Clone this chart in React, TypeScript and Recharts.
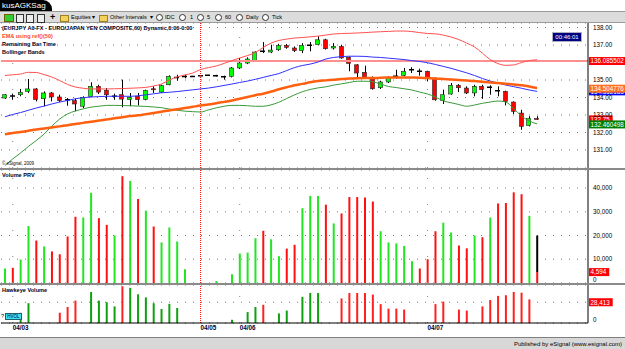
import React from 'react';
import { ComposedChart, Bar, Line, XAxis, YAxis, CartesianGrid, ReferenceLine, Cell } from 'recharts';

const FONT = '"Liberation Sans", Arial, sans-serif';
const SLOTS = 75; // 69 hourly bars + empty space on the right

// hourly EUR/JPY candles
const opens = [133.97,134.10,134.16,134.35,134.49,133.93,134.26,134.03,133.88,133.82,133.50,134.07,134.64,134.41,134.06,134.16,133.88,134.07,133.89,134.50,134.31,134.73,135.14,135.19,135.20,135.25,135.27,135.24,135.20,135.21,135.69,135.97,136.10,136.66,136.60,136.73,136.98,136.83,136.68,136.98,137.02,137.30,136.83,136.92,136.30,135.87,135.44,135.15,134.56,134.89,135.20,135.27,135.58,135.51,135.50,135.11,133.84,134.20,134.70,134.54,134.26,134.64,134.57,134.40,134.35,133.74,133.11,132.41,132.80];
const highs = [134.20,134.22,134.49,135.06,134.54,134.35,134.31,134.16,133.97,133.95,134.07,134.87,134.73,134.54,134.22,135.02,134.26,134.26,134.45,134.64,134.73,135.27,135.30,135.30,135.24,135.28,135.29,135.30,135.25,135.74,136.26,136.30,136.64,137.17,137.02,137.07,137.06,136.92,137.11,137.17,137.50,137.36,137.11,137.02,136.35,135.91,135.82,135.21,134.96,135.21,135.59,135.69,135.73,135.65,135.53,135.15,134.45,134.83,134.77,134.64,134.73,134.73,134.70,134.64,134.39,133.78,133.30,132.93,132.93];
const lows = [133.92,133.87,134.07,134.26,133.78,133.50,133.78,133.74,133.53,133.21,133.40,134.03,134.20,133.87,133.87,133.44,133.50,133.55,133.84,134.26,134.26,134.70,134.96,135.10,135.18,135.23,135.25,135.20,135.02,135.15,135.63,135.91,136.07,136.54,136.54,136.67,136.79,136.60,136.54,136.64,136.98,136.74,136.74,136.22,135.50,135.15,135.11,134.45,134.49,134.83,135.07,135.21,135.40,135.25,134.92,133.82,133.63,134.16,134.31,134.20,134.07,133.93,134.16,134.07,133.55,133.06,132.16,132.35,132.73];
const closes = [134.16,134.08,134.30,134.49,133.88,134.26,134.03,133.82,133.86,133.63,134.01,134.64,134.31,134.16,134.08,133.91,134.01,133.88,134.41,134.45,134.68,135.21,135.16,135.21,135.20,135.25,135.27,135.26,135.17,135.69,135.97,136.20,136.60,136.63,136.71,136.98,136.87,136.68,136.98,137.00,137.30,136.79,136.92,136.26,135.95,135.40,135.15,134.50,134.89,135.15,135.22,135.50,135.60,135.49,135.11,133.87,134.16,134.70,134.56,134.26,134.64,134.45,134.59,134.38,133.78,133.21,132.35,132.79,132.75];

// indicators
const bbUpper = [135.26,135.30,135.34,135.44,135.43,135.31,135.17,134.97,134.75,134.60,134.53,134.49,134.49,134.49,134.50,134.51,134.53,134.55,134.58,134.66,134.77,135.00,135.17,135.29,135.40,135.60,135.71,135.80,135.95,136.11,136.26,136.40,136.57,136.86,137.11,137.26,137.34,137.40,137.43,137.47,137.51,137.57,137.63,137.66,137.67,137.69,137.71,137.74,137.76,137.78,137.80,137.80,137.77,137.71,137.66,137.64,137.57,137.46,137.31,137.11,136.89,136.54,136.17,135.94,135.84,135.86,136.00,136.11,136.16];
const bbMiddle = [132.90,133.03,133.14,133.27,133.40,133.51,133.63,133.74,133.83,133.93,133.99,134.03,134.05,134.07,134.07,134.07,134.07,134.10,134.15,134.21,134.27,134.30,134.34,134.39,134.44,134.49,134.54,134.61,134.69,134.77,134.86,134.94,135.04,135.15,135.26,135.37,135.54,135.71,135.83,135.91,136.03,136.20,136.29,136.34,136.36,136.36,136.35,136.31,136.29,136.25,136.21,136.17,136.11,136.06,135.99,135.89,135.78,135.67,135.54,135.41,135.26,135.09,134.94,134.83,134.71,134.62,134.53,134.43,134.35];
const bbLower = [130.11,130.49,130.83,131.20,131.54,131.91,132.37,132.77,133.06,133.23,133.35,133.45,133.50,133.55,133.55,133.54,133.53,133.51,133.49,133.46,133.42,133.34,133.27,133.22,133.19,133.17,133.29,133.41,133.50,133.55,133.55,133.53,133.50,133.50,133.58,133.73,133.94,134.15,134.33,134.46,134.55,134.61,134.71,134.78,134.86,134.93,134.93,134.90,134.77,134.63,134.57,134.50,134.43,134.31,134.20,134.03,133.81,133.70,133.60,133.50,133.57,133.67,133.74,133.80,133.74,133.37,132.94,132.66,132.49];
const ema50 = [131.90,131.97,132.03,132.10,132.17,132.23,132.29,132.35,132.42,132.49,132.55,132.62,132.68,132.74,132.81,132.87,132.94,132.98,133.05,133.11,133.19,133.26,133.33,133.40,133.47,133.54,133.60,133.67,133.75,133.83,133.93,134.03,134.13,134.22,134.34,134.47,134.59,134.70,134.78,134.87,134.94,134.98,135.02,135.06,135.08,135.10,135.11,135.11,135.13,135.14,135.15,135.15,135.14,135.13,135.11,135.09,135.06,135.03,135.00,134.97,134.94,134.90,134.86,134.83,134.79,134.75,134.70,134.63,134.54];

const volumes = [6100,6400,9900,24000,17900,15400,13300,12100,19600,27900,27600,38000,27300,24500,20000,45000,43000,35400,30500,23800,17100,23400,17500,5800,0,0,0,800,0,3700,12400,12800,18900,22000,18400,11300,14500,16100,31500,36700,36700,33000,25100,29300,36200,36200,36000,34300,21800,17100,16700,15600,9200,6100,10000,21800,25400,21300,15800,14600,20000,19300,27600,33500,33700,38200,37400,28300,4594];
const projectedVolume = 20000;

const hawkeye = [0,0,14000,27100,0,0,0,14000,21900,30600,0,42400,30600,28400,22700,50300,48100,39300,35000,27100,19200,26200,20500,0,0,0,0,0,0,4400,0,14900,21900,24900,0,13100,17000,0,35800,41100,41100,0,0,33600,41100,41100,41100,38900,25800,19700,19700,18400,0,0,0,25800,29300,0,18400,17000,0,22700,31500,37100,38000,42400,41500,32300,0];
const hawkeyeSide = ['','','g','g','','','','r','r','r','','g','g','g','g','r','g','g','g','g','g','g','g','','','','','','','g','','g','g','r','','g','g','','g','g','g','','','r','r','r','r','r','r','r','r','r','','','','r','r','','r','r','','r','r','r','r','r','r','r',''];

const priceTicks = [131, 132, 133, 134, 135, 137, 138];
const volumeTicks = [0, 10000, 20000, 30000, 40000];
const daySlots = [1, 25, 30, 54];
const dayLabels = ['04/03', '04/05', '04/06', '04/07'];
const cursorSlot = 25;

const refLevel = 136.085502;
const emaLast = 134.504776;
const midLast = 134.352183;
const lowerLast = 132.460498;
const hawkeyeLevel = 28413;

const UP = '#00ff00';
const DOWN = '#ff0000';

const rows = Array.from({ length: SLOTS }, (_, i) => ({
  i,
  open: opens[i],
  high: highs[i],
  low: lows[i],
  close: closes[i],
  upper: bbUpper[i],
  middle: bbMiddle[i],
  lower: bbLower[i],
  ema: ema50[i],
  vol: volumes[i],
  volRest: i === volumes.length - 1 ? projectedVolume - volumes[i] : undefined,
  hawk: hawkeye[i] || undefined,
}));

function Candle(props: any) {
  const { x, y, width, height, payload } = props;
  if (!payload || payload.open == null) return null;
  const { open, high, low, close } = payload;
  const top = Math.min(y, y + height);
  const h = Math.abs(height);
  const span = high - low;
  const py = (v: number) => (span > 0 ? top + ((high - v) / span) * h : top);
  const cx = Math.round(x + width / 2) + 0.5;
  const left = Math.round(x);
  const w = Math.round(width);
  const bTop = py(Math.max(open, close));
  const bBot = py(Math.min(open, close));
  if (Math.abs(close - open) < 0.04) {
    const my = (bTop + bBot) / 2;
    return (
      <g>
        <line x1={cx} x2={cx} y1={top} y2={top + h} stroke="#000" />
        <line x1={left} x2={left + w} y1={my} y2={my} stroke="#000" strokeWidth={1.5} />
      </g>
    );
  }
  return (
    <g>
      <line x1={cx} x2={cx} y1={top} y2={top + h} stroke="#000" />
      <rect x={left + 0.5} y={bTop} width={w - 1} height={Math.max(bBot - bTop, 1)} fill={close > open ? UP : DOWN} stroke="#222" strokeWidth={0.6} />
    </g>
  );
}

function ValueTag(props: any) {
  const { viewBox, text, bg } = props;
  if (!viewBox) return null;
  const x = viewBox.x + viewBox.width + 1;
  const y = viewBox.y;
  const w = text.length * 3.45 + 3;
  return (
    <g>
      <rect x={x} y={y - 4} width={w} height={8} fill={bg} />
      <text x={x + 1.5} y={y + 2.3} fontSize={6.3} fill="#fff" fontFamily={FONT}>{text}</text>
    </g>
  );
}

// right-hand axis label; the zero label sits a little above the baseline
function RightTick(props: any) {
  const { x, y, payload, format } = props;
  const text = format(payload.value);
  if (!text) return null;
  const yy = payload.value === 0 ? y - 3 : y;
  return (
    <text x={x + 1} y={yy + 2.2} fontSize={6.3} fill="#000" fontFamily={FONT}>{text}</text>
  );
}

function DayTick(props: any) {
  const { x, y, payload } = props;
  const k = daySlots.indexOf(payload.value);
  if (k < 0) return null;
  return (
    <text x={x} y={y + 5} fontSize={6.3} fontWeight="bold" fill="#000033" fontFamily={FONT}>{dayLabels[k]}</text>
  );
}

const fmt = (v: number) => v.toLocaleString('en-US');
const margin = { top: 0, right: 0, bottom: 0, left: 1 };

function daySeparators() {
  return daySlots.map((s) =>
    s === cursorSlot ? (
      <ReferenceLine key={s} x={s} stroke="#ff0000" strokeDasharray="1 1" />
    ) : (
      <ReferenceLine key={s} x={s} stroke="#888" strokeDasharray="1 25" />
    )
  );
}

function PriceChart() {
  return (
    <ComposedChart width={625} height={145} data={rows} margin={margin} barCategoryGap={0}>
      <CartesianGrid vertical={false} stroke="#777" strokeDasharray="1 7" />
      <XAxis dataKey="i" hide />
      <YAxis orientation="right" width={37} domain={[129.97, 138.26]} ticks={priceTicks} interval={0}
        tick={<RightTick format={(v: number) => v.toFixed(2)} />} tickLine={false} tickSize={2}
        axisLine={{ stroke: '#000' }} allowDataOverflow />
      {daySeparators()}
      <ReferenceLine y={refLevel} stroke="#ff9090" strokeWidth={2}
        label={<ValueTag text={refLevel.toFixed(6)} bg="#ff0000" />} />
      <Line dataKey="upper" stroke="#ff5050" strokeWidth={1} dot={false} type="monotone" isAnimationActive={false} />
      <Line dataKey="middle" stroke="#3030ff" strokeWidth={1} dot={false} type="monotone" isAnimationActive={false} />
      <Line dataKey="lower" stroke="#3a9a3a" strokeWidth={1} dot={false} type="monotone" isAnimationActive={false} />
      <Line dataKey="ema" stroke="#ff6010" strokeWidth={2.5} dot={false} type="monotone" isAnimationActive={false} />
      <Bar dataKey={(d: any) => (d.low == null ? undefined : [d.low, d.high])} barSize={5} shape={Candle} isAnimationActive={false} />
      <ReferenceLine y={midLast} stroke="none" label={<ValueTag text={midLast.toFixed(6)} bg="#0000ff" />} />
      <ReferenceLine y={emaLast} stroke="none" label={<ValueTag text={emaLast.toFixed(6)} bg="#ff7020" />} />
      <ReferenceLine y={closes[closes.length - 1]} stroke="none" label={<ValueTag text={closes[closes.length - 1].toFixed(2)} bg="#ff0000" />} />
      <ReferenceLine y={lowerLast} stroke="none" label={<ValueTag text={lowerLast.toFixed(6)} bg="#008000" />} />
    </ComposedChart>
  );
}

function VolumeChart() {
  return (
    <ComposedChart width={625} height={113} data={rows} margin={margin} barCategoryGap={0}>
      <CartesianGrid vertical={false} stroke="#777" strokeDasharray="1 7" />
      <XAxis dataKey="i" hide />
      <YAxis orientation="right" width={37} domain={[0, 47600]} ticks={volumeTicks} interval={0}
        tick={<RightTick format={fmt} />} tickLine={false} tickSize={2} axisLine={{ stroke: '#000' }} />
      {daySeparators()}
      <Bar dataKey="vol" stackId="v" barSize={2} isAnimationActive={false}>
        {rows.map((r) => (
          <Cell key={r.i} fill={r.close != null && r.close >= r.open ? '#22e622' : '#ff1010'} />
        ))}
      </Bar>
      <Bar dataKey="volRest" stackId="v" barSize={2} fill="#000" isAnimationActive={false} />
      <ReferenceLine y={volumes[volumes.length - 1]} stroke="none"
        label={<ValueTag text={fmt(volumes[volumes.length - 1])} bg="#ff0000" />} />
    </ComposedChart>
  );
}

function HawkeyeChart() {
  return (
    <ComposedChart width={625} height={52} data={rows} margin={margin} barCategoryGap={0}>
      <CartesianGrid vertical={false} stroke="#777" strokeDasharray="1 7" />
      <XAxis dataKey="i" interval={0} height={14} tick={<DayTick />} tickLine={false} tickSize={0} axisLine={{ stroke: '#000' }} />
      <YAxis orientation="right" width={37} domain={[0, 52000]} ticks={[0, hawkeyeLevel]} interval={0}
        tick={<RightTick format={(v: number) => (v === 0 ? '0' : '')} />} tickLine={false} tickSize={2}
        axisLine={{ stroke: '#000' }} />
      {daySeparators()}
      <Bar dataKey="hawk" barSize={2} isAnimationActive={false}>
        {rows.map((r) => (
          <Cell key={r.i} fill={hawkeyeSide[r.i] === 'g' ? '#10a010' : '#ff2020'} />
        ))}
      </Bar>
      <ReferenceLine y={hawkeyeLevel} stroke="none" label={<ValueTag text={fmt(hawkeyeLevel)} bg="#ff0000" />} />
    </ComposedChart>
  );
}

const abs = (left: number, top: number, extra: React.CSSProperties = {}): React.CSSProperties => ({
  position: 'absolute', left, top, whiteSpace: 'nowrap', ...extra,
});

function ClockIcon({ x }: { x: number }) {
  return (
    <div style={abs(x, 14, { width: 5, height: 5, borderRadius: 4, border: '1px solid #333', background: '#fff' })} />
  );
}

function FolderIcon({ x }: { x: number }) {
  return <div style={abs(x, 14.5, { width: 7, height: 5, background: '#f2d25a', border: '1px solid #a08020' })} />;
}

export default function App() {
  const titleStyle: React.CSSProperties = {
    fontSize: 6.2, fontWeight: 'bold', lineHeight: '8px', fontFamily: FONT,
    transform: 'scaleX(0.9)', transformOrigin: 'left center',
  };
  const toolText: React.CSSProperties = { fontSize: 5.6, lineHeight: '7px', color: '#000', fontFamily: FONT };
  return (
    <div style={{ position: 'fixed', left: 0, top: 0, width: 625, height: 349, background: '#fff', overflow: 'hidden', fontFamily: FONT }}>
      <div style={abs(0, 0, { width: 52, height: 11, background: '#000', borderTopRightRadius: 9, color: '#fff', fontSize: 8, lineHeight: '11px', paddingLeft: 2, boxSizing: 'border-box' })}>kusAGKSag</div>
      <div style={abs(0, 11, { width: 625, height: 12, background: '#dcdcdc', borderTop: '1px solid #9a9a9a', borderBottom: '1px solid #9a9a9a', boxSizing: 'border-box' })} />
      <div style={abs(4, 14, { width: 8, height: 6, background: '#3c3', border: '1px solid #660' })} />
      <div style={abs(16, 13.5, { width: 6, height: 7, background: '#eee', border: '1px solid #333' })} />
      <div style={abs(26, 13.5, { width: 6, height: 7, background: '#eee', border: '1px solid #333' })} />
      <div style={abs(37, 13.5, { width: 6, height: 7, background: '#eee', border: '1px solid #333' })} />
      <div style={abs(50, 12, { fontSize: 9, fontWeight: 'bold', lineHeight: '10px' })}>+</div>
      <FolderIcon x={60} />
      <div style={abs(71, 14, toolText)}>Equities</div>
      <div style={abs(92, 14, toolText)}>▾</div>
      <FolderIcon x={99} />
      <div style={abs(110, 14, toolText)}>Other Intervals</div>
      <div style={abs(150, 14, toolText)}>▾</div>
      <ClockIcon x={156} />
      <div style={abs(165, 14, toolText)}>IDC</div>
      <ClockIcon x={179} />
      <div style={abs(190, 14, toolText)}>1</div>
      <ClockIcon x={197} />
      <div style={abs(207, 14, toolText)}>5</div>
      <ClockIcon x={215} />
      <div style={abs(225, 14, toolText)}>60</div>
      <ClockIcon x={236} />
      <div style={abs(246, 14, toolText)}>Daily</div>
      <ClockIcon x={262} />
      <div style={abs(272, 14, toolText)}>Tick</div>

      <div style={abs(0, 23)}><PriceChart /></div>
      <div style={abs(0, 168, { width: 625, height: 2, background: '#8a8a8a' })} />
      <div style={abs(0, 170)}><VolumeChart /></div>
      <div style={abs(0, 283, { width: 625, height: 2, background: '#8a8a8a' })} />
      <div style={abs(0, 285)}><HawkeyeChart /></div>
      <div style={abs(0, 337, { width: 625, height: 12, background: '#d8d8d8', borderTop: '1px solid #808080', boxSizing: 'border-box' })} />
      <div style={abs(0, 340, { width: 622, textAlign: 'right', fontSize: 6, lineHeight: '8px', color: '#000' })}>Published by eSignal (www.esignal.com)</div>

      <div style={abs(2, 23.5, { ...titleStyle, color: '#000020' })}>(EURJPY A0-FX - EURO/JAPAN YEN COMPOSITE,60) Dynamic,0:00-0:00</div>
      <div style={abs(2, 31.5, { ...titleStyle, color: '#ff4a1a' })}>EMA using ref()(50)</div>
      <div style={abs(2, 39.5, { ...titleStyle, color: '#000020' })}>Remaining Bar Time</div>
      <div style={abs(2, 47.5, { ...titleStyle, color: '#000020' })}>Bollinger Bands</div>
      <div style={abs(553, 33, { width: 28, height: 8, background: '#000080', color: '#fff', fontSize: 6, lineHeight: '8px', textAlign: 'center', outline: '1px solid #b0b0c0' })}>00:46:01</div>
      <div style={abs(2, 161, { fontSize: 4.5, lineHeight: '5px', color: '#000' })}>© eSignal, 2009</div>
      <div style={abs(2, 170.5, { ...titleStyle, color: '#000020' })}>Volume PRV</div>
      <div style={abs(2, 285.5, { ...titleStyle, color: '#000020' })}>Hawkeye Volume</div>
      <div style={abs(1, 313, { fontSize: 5.5, lineHeight: '7px' })}>?</div>
      <div style={abs(5, 313, { width: 17, height: 7, background: '#40e0f0', border: '1px solid #206070', boxSizing: 'border-box', fontSize: 4.5, lineHeight: '5px', textAlign: 'center', color: '#002' })}>HVOL</div>
    </div>
  );
}
